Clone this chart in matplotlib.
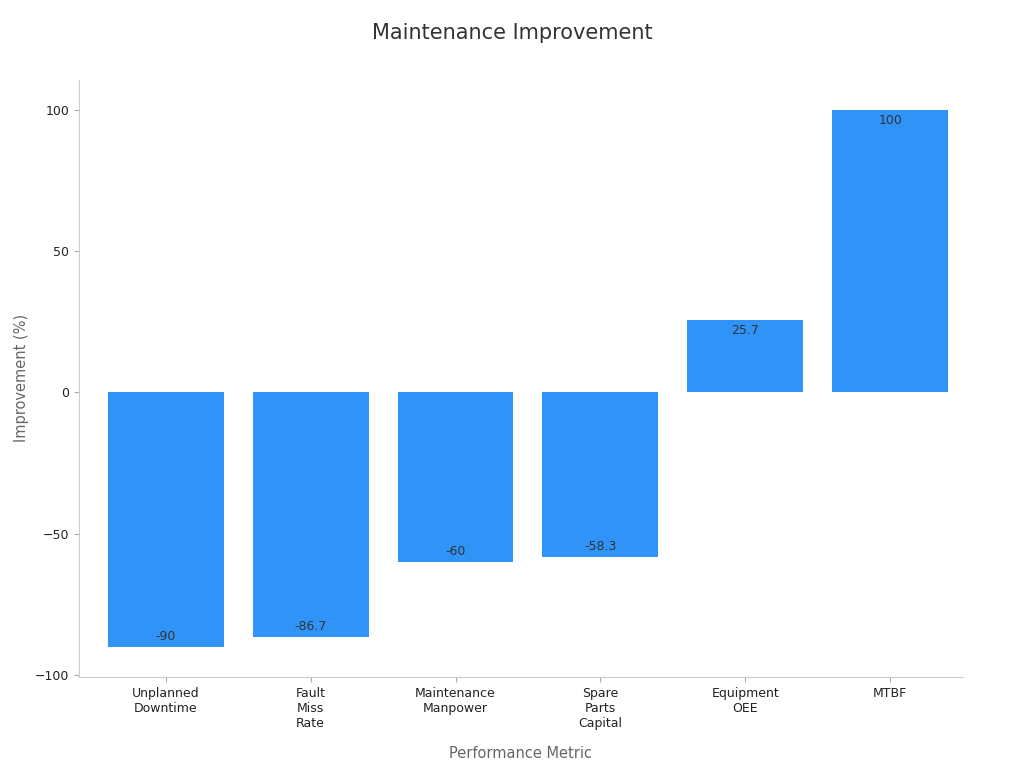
import matplotlib.pyplot as plt

# data
categories = ["Unplanned\nDowntime", "Fault\nMiss\nRate", "Maintenance\nManpower",
              "Spare\nParts\nCapital", "Equipment\nOEE", "MTBF"]
improvement = [-90, -86.7, -60, -58.3, 25.7, 100]
value_labels = ["-90", "-86.7", "-60", "-58.3", "25.7", "100"]

BAR_COLOR = "#2f93f7"
TEXT_COLOR = "#333333"

fig = plt.figure(figsize=(10.24, 7.68), dpi=100)
ax = fig.add_axes([0.077, 0.1185, 0.863, 0.7775])

x = range(len(categories))
bars = ax.bar(x, improvement, width=0.8, color=BAR_COLOR)

# value labels sit just inside the end of each bar
for b, v, lab in zip(bars, improvement, value_labels):
    cx = b.get_x() + b.get_width() / 2
    ax.annotate(lab, (cx, v), xytext=(0, -3 if v > 0 else 3), textcoords="offset points",
                ha="center", va="top" if v > 0 else "bottom", fontsize=9, color=TEXT_COLOR)

ax.set_xlim(-0.6, 5.5)
ax.set_ylim(-100.7, 110.6)
ax.set_yticks([-100, -50, 0, 50, 100])
ax.set_xticks(list(x))
ax.set_xticklabels(categories, fontsize=9, color="#222222")
ax.tick_params(axis="y", labelsize=9, colors="#222222")
ax.tick_params(color="#aaaaaa")

for s in ["top", "right"]:
    ax.spines[s].set_visible(False)
for s in ["left", "bottom"]:
    ax.spines[s].set_color("#cccccc")

ax.set_xlabel("Performance Metric", fontsize=10.5, color="#666666", labelpad=12)
ax.set_ylabel("Improvement (%)", fontsize=10.5, color="#666666")
fig.suptitle("Maintenance Improvement", fontsize=15, color=TEXT_COLOR, y=0.97)

fig.savefig("out.png", dpi=100)
